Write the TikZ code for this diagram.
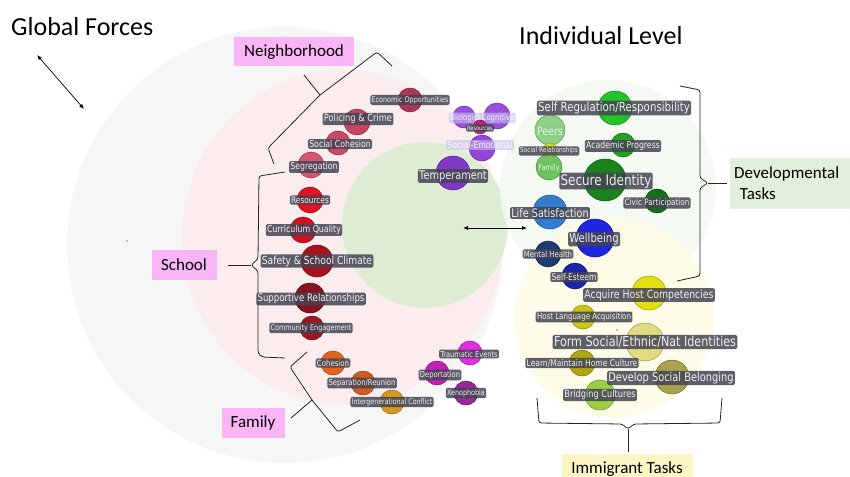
\documentclass[tikz,border=0pt]{standalone}
\usepackage{fontspec}
\setmainfont{Carlito}
\newfontfamily\tagfont[FakeStretch=0.82]{DejaVu Sans}
\usetikzlibrary{arrows.meta}

\definecolor{globalbg}{HTML}{F7F6F6}
\definecolor{nbhdbg}{HTML}{FBEDED}
\definecolor{corebg}{HTML}{DDECD3}
\definecolor{devbg}{HTML}{F3F9F0}
\definecolor{immbg}{HTML}{FDFCE4}
\definecolor{pinkbox}{HTML}{F9B6F6}
\definecolor{devbox}{HTML}{E2EFDA}
\definecolor{immbox}{HTML}{FBF6C4}
\definecolor{tagbg}{HTML}{444452}
\definecolor{tagfg}{HTML}{F0F0F0}
% neighborhood, school, family, global
\definecolor{nbA}{HTML}{A8284A}
\definecolor{nbB}{HTML}{C23656}
\definecolor{nbC}{HTML}{C83A5C}
\definecolor{nbD}{HTML}{D24A6A}
\definecolor{scA}{HTML}{E0000F}
\definecolor{scB}{HTML}{CC0010}
\definecolor{scC}{HTML}{A0000C}
\definecolor{scD}{HTML}{7E0010}
\definecolor{scE}{HTML}{8E0A14}
\definecolor{faA}{HTML}{E2580E}
\definecolor{faB}{HTML}{CF4E0E}
\definecolor{faC}{HTML}{D4920C}
\definecolor{glA}{HTML}{E01EE0}
\definecolor{glB}{HTML}{BE0EB0}
\definecolor{glC}{HTML}{8E1690}
% individual level
\definecolor{puA}{HTML}{9040D8}
\definecolor{puB}{HTML}{8A38D4}
\definecolor{puC}{HTML}{7A28C8}
\definecolor{puR}{HTML}{C0106A}
\definecolor{grA}{HTML}{16C016}
\definecolor{grP}{HTML}{86CF7E}
\definecolor{grS}{HTML}{C6E22A}
\definecolor{grF}{HTML}{66C05A}
\definecolor{grB}{HTML}{129A12}
\definecolor{grC}{HTML}{0A780A}
\definecolor{grD}{HTML}{066206}
\definecolor{blA}{HTML}{2272D0}
\definecolor{blB}{HTML}{0C14E0}
\definecolor{blC}{HTML}{0C2A6E}
\definecolor{blD}{HTML}{0A12A8}
\definecolor{ylA}{HTML}{E2DE00}
\definecolor{ylB}{HTML}{C8C000}
\definecolor{ylC}{HTML}{E0DA78}
\definecolor{ylD}{HTML}{A8A000}
\definecolor{ylE}{HTML}{A29A44}
\definecolor{ylF}{HTML}{92CC32}
\definecolor{lavender}{HTML}{C4BEEE}

\begin{document}
\begin{tikzpicture}[x=1pt,y=-1pt,
    bub/.style={circle,inner sep=0pt,fill=#1,draw=#1!70!black,line width=0.5pt,fill opacity=0.92},
    tag/.style={rounded corners=1.5pt,inner sep=1.3pt,fill=tagbg,fill opacity=0.85,text=tagfg,text opacity=1},
    fade/.style={rounded corners=1.5pt,inner sep=1.3pt,fill=#1,fill opacity=0.6,text=white,text opacity=0.85},
    box/.style={fill=#1,inner sep=0pt,font=\fontsize{17}{21}\selectfont},
    title/.style={inner sep=0pt,font=\fontsize{26}{30}\selectfont},
    bracket/.style={draw=black!85,line width=0.8pt,rounded corners=2.5pt},
    twoway/.style={{Latex[length=5pt,width=4pt]}-{Latex[length=5pt,width=4pt]},line width=0.7pt}]
  \useasboundingbox (0,0) rectangle (850,476);

  % levels
  \fill[globalbg] (285,245) circle (218);
  \fill[nbhdbg] (343,237) ellipse [x radius=161,y radius=167];
  \fill[corebg] (425,225) circle (83);
  \fill[devbg,opacity=0.9] (608,188) circle (108);
  \fill[immbg,opacity=0.85] (614,318) circle (100);

  % titles and boxes
  \node[title,anchor=west] (global) at (11,27) {Global Forces};
  \node[title,anchor=west] (indiv) at (519,36) {Individual Level};
  \node[box=pinkbox,minimum width=120,minimum height=29] (nbhd) at (294,52) {Neighborhood};
  \node[box=pinkbox,minimum width=65,minimum height=30] (school) at (184,265) {School};
  \node[box=pinkbox,minimum width=63,minimum height=30] (family) at (253,423) {Family};
  \node[box=devbox,minimum width=120,minimum height=51,anchor=west,align=left,text width=112] (dev) at (730,183) {Developmental\\\ Tasks};
  \node[box=immbox,minimum width=131,minimum height=30] (imm) at (627,469) {Immigrant Tasks};

  % arrows
  \coordinate (g1) at (37,55);
  \coordinate (g2) at (84,109);
  \draw[twoway] (g1) -- (g2);
  \coordinate (c1) at (463,228);
  \coordinate (c2) at (527,228);
  \draw[twoway] (c1) -- (c2);
  \fill (127,241) circle (0.6);
  \fill (617,330) circle (0.6);

  % braces
  \coordinate (nbtip) at (304,75);
  \draw[bracket] (274,164) -- (268,148) -- (320,95) -- (377,52) -- (392,66);
  \draw[bracket] (320,95) -- (nbtip);
  \coordinate (sctip) at (228,265);
  \draw[bracket] (285,172) -- (259,176) -- (258,259) -- (251,265) -- (258,271) -- (258,353) -- (262,357) -- (285,358);
  \draw[bracket] (251,265) -- (sctip);
  \coordinate (fatip) at (291,418);
  \draw[bracket] (307,352) -- (290,367) -- (312,400) -- (338,432) -- (360,420);
  \draw[bracket] (312,400) -- (fatip);
  \coordinate (devtip) at (727,183);
  \draw[bracket] (680,86) -- (700,90) -- (700,178) -- (708,183) -- (700,188) -- (700,276) -- (677,281);
  \draw[bracket] (708,183) -- (devtip);
  \coordinate (immtip) at (628,452);
  \draw[bracket] (537,398) -- (539,423) -- (622,424) -- (628,429) -- (634,424) -- (720,423) -- (722,398);
  \draw[bracket] (628,429) -- (immtip);

  % bubbles
  \foreach \n/\x/\y/\r/\c in {econ/410/100/12/nbA, police/357/122/13/nbB, socco/338/143/12/nbC, segreg/311/165/13/nbD,
      res/310/200/13/scA, curr/303/230/13/scB, safety/317/261/16/scC, support/310/298/15/scD, commeng/312/328/12/scE,
      cohes/333/363/12/faA, separ/363/383/12/faB, interg/392/402/12/faC,
      trauma/470/353/12/glA, deport/437/373/12/glB, xeno/466/393/12/glC,
      bio/464/117/11/puA, cogn/497/116/13/puA, socemo/482/148/13/puB, temper/453/173/17/puC,
      selfreg/615/108/17/grA, peers/550/130/15/grP, famg/549/167/13/grF, acad/623/145/12/grB,
      secure/605/180/21/grC, civic/657/201/12/grD,
      lifesat/550/212/17/blA, wellb/595/238/19/blB, mental/548/254/13/blC, esteem/575/276/13/blD,
      acquire/649/293/17/ylA, hostlang/583/317/12/ylB, formid/645/342/19/ylC, learn/582/363/13/ylD,
      belong/672/377/17/ylE, bridge/600/395/15/ylF}
    \node[bub=\c,minimum size=2*\r] (\n) at (\x,\y) {};

  % faded ones
  \foreach \n/\dx/\dy/\s/\c/\t in {bio/3/1/8.4/lavender/Biological, cogn/1/2/8.4/lavender/Cognitive,
      socemo/-2/-3/9.5/lavender/Social-Emotional, peers/0/1/11.4/grP/Peers, famg/0/1/8.1/grF/Family}
    \node[fade=\c,font=\tagfont\fontsize{\s}{\s}\selectfont] (\n-t) at ([shift={(\dx,\dy)}]\n) {\t};
  \node[bub=puR,minimum size=14] (resind) at (480,127) {};
  \node[bub=grS,minimum size=14] (socrel) at (550,150) {};

  \foreach \n/\dx/\dy/\s/\t in {econ/0/0/7.8/{Economic Opportunities}, police/1/-3/10.1/{Policing \& Crime},
      socco/2/1/9.5/{Social Cohesion}, segreg/3/2/9.5/Segregation,
      res/0/0/9/Resources, curr/1/0/9.6/{Curriculum Quality}, safety/0/0/11.1/{Safety \& School Climate},
      support/1/1/10.5/{Supportive Relationships}, commeng/-1/0/7.9/{Community Engagement},
      cohes/0/0/8.5/Cohesion, separ/-1/0/8.3/{Separation/Reunion}, interg/0/0/7.7/{Intergenerational Conflict},
      trauma/-1/1/8.1/{Traumatic Events}, deport/3/2/8.2/Deportation, xeno/0/0/7.8/Xenophobia,
      resind/0/1/6.1/Resources, temper/0/3/11.9/Temperament,
      selfreg/-1/0/12.5/{Self Regulation/Responsibility}, socrel/-1/1/7.1/{Social Relationships},
      acad/0/1/9.5/{Academic Progress}, secure/1/1/14.6/{Secure Identity}, civic/0/2/8.8/{Civic Participation},
      lifesat/0/1/11.8/{Life Satisfaction}, wellb/-1/1/12.3/Wellbeing, mental/0/0/8.4/{Mental Health},
      esteem/-1/1/9.2/Self-Esteem,
      acquire/0/2/11.4/{Acquire Host Competencies}, hostlang/1/0/8.6/{Host Language Acquisition},
      formid/0/0/13.6/{Form Social/Ethnic/Nat Identities}, learn/0/0/9.2/{Learn/Maintain Home Culture},
      belong/-1/1/12/{Develop Social Belonging}, bridge/0/0/10/{Bridging Cultures}}
    \node[tag,font=\tagfont\fontsize{\s}{\s}\selectfont] (\n-t) at ([shift={(\dx,\dy)}]\n) {\t};
\end{tikzpicture}
\end{document}
